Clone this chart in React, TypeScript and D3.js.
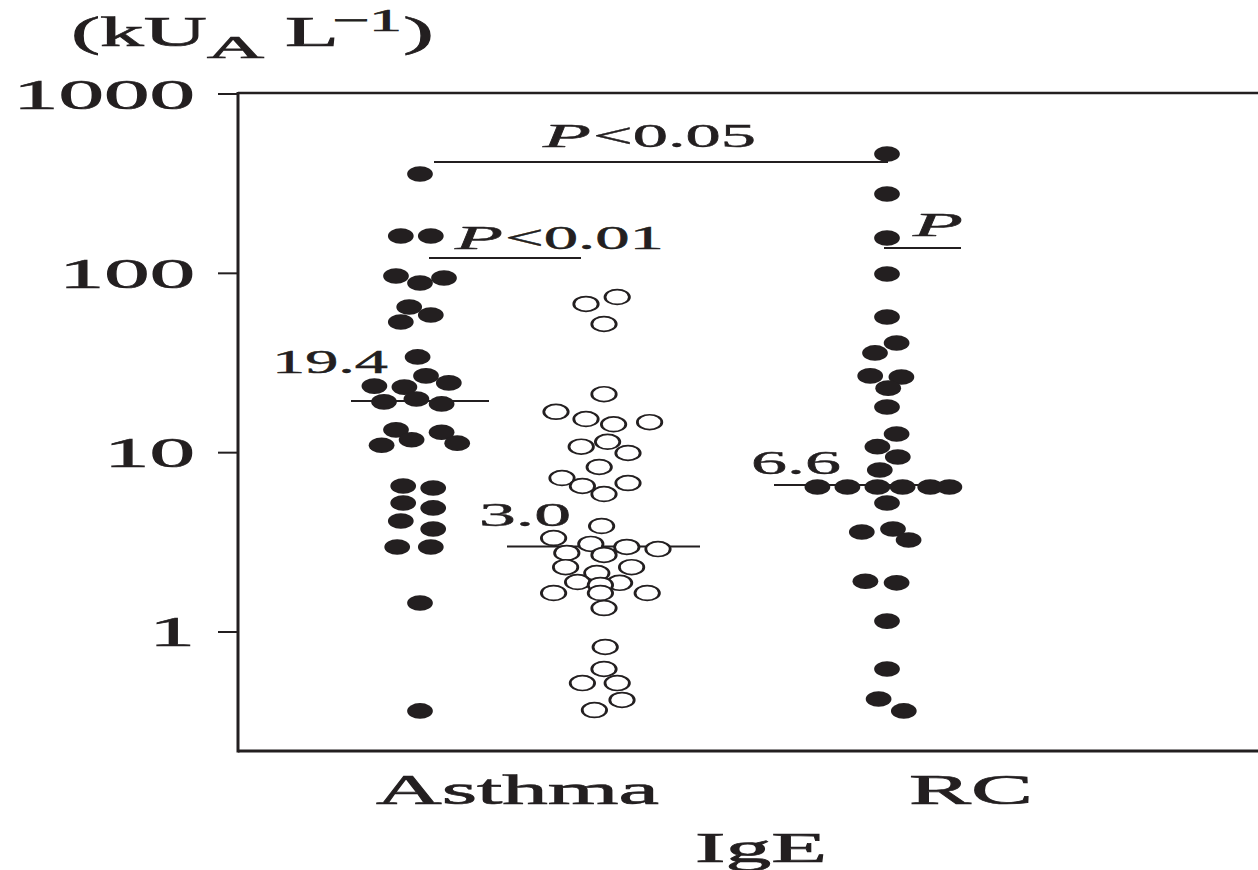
import React from "react";
import * as d3 from "d3";

// ---------- data ----------
const categories = ["Asthma", "RC"];
const tickValues = [1, 10, 100, 1000];
const tickLabels = ["1", "10", "100", "1000"];
const axisTitle = "IgE";

// [value kU/L, horizontal jitter in dot units]
const asthmaFilled: [number, number][] = [
  [358, 0],
  [161.5, -0.8], [161.5, 0.45],
  [96.7, -1.0], [88.3, 0], [94.2, 1.0],
  [64.9, -0.45], [58.6, 0.45], [53.5, -0.8],
  [34.2, -0.1],
  [26.8, 0.25], [24.5, 1.2], [23.5, -1.9], [23.2, -0.65],
  [19.2, -1.5], [19.9, -0.15], [18.7, 0.9],
  [13.4, -1.0], [11.8, -0.35], [13.0, 0.9], [11.3, 1.55], [11.0, -1.6],
  [6.52, -0.7], [6.35, 0.55],
  [5.24, -0.7], [4.92, 0.55],
  [4.16, -0.8], [3.75, 0.55],
  [2.98, -0.95], [2.98, 0.45],
  [1.45, 0],
  [0.363, 0],
];

const asthmaOpen: [number, number][] = [
  [67.5, -0.75], [73.8, 0.55], [52.2, 0],
  [21.2, 0],
  [16.9, -2.0], [15.4, -0.75], [14.4, 0.4], [14.8, 1.9],
  [10.8, -0.95], [11.5, 0.15], [9.96, 1.0],
  [8.32, -0.2],
  [7.22, -1.75], [6.52, -0.9], [6.77, 1.0], [5.88, 0],
  [3.9, -0.1],
  [3.34, -2.1], [3.1, -0.55], [2.98, 0.95], [2.9, 2.25],
  [2.76, -1.55], [2.69, 0],
  [2.3, -1.6], [2.13, -0.3], [2.3, 1.15],
  [1.9, -1.1], [1.88, 0.65], [1.83, -0.15],
  [1.65, -2.1], [1.65, -0.15], [1.65, 1.8],
  [1.36, 0],
  [0.825, 0.05],
  [0.622, 0],
  [0.519, -0.9], [0.519, 0.55],
  [0.418, 0.75],
  [0.367, -0.4],
];

const rcFilled: [number, number][] = [
  [463, 0],
  [277, 0],
  [157.4, 0],
  [99.2, 0],
  [57.1, 0],
  [40.9, 0.4], [36.0, -0.5],
  [26.8, -0.7], [26.4, 0.6], [22.9, 0.05],
  [17.98, 0],
  [12.7, 0.4],
  [10.8, -0.4], [9.46, 0.45],
  [8.0, -0.3],
  [6.44, -2.9], [6.44, -1.65], [6.44, -0.4], [6.44, 0.65], [6.44, 1.8], [6.44, 2.6],
  [5.24, 0],
  [3.61, -1.05], [3.75, 0.25], [3.26, 0.9],
  [1.92, -0.9], [1.88, 0.4],
  [1.15, 0],
  [0.622, 0],
  [0.423, -0.35], [0.363, 0.7],
];

const medians = [
  { label: "19.4", value: 19.4 },
  { label: "3.0", value: 3.0 },
  { label: "6.6", value: 6.6 },
];

const ink = "#231f20";
const serif = "'Liberation Serif', 'Times New Roman', serif";

export default function App() {
  const W = 1258;
  const H = 870;
  const left = 238;
  const top = 93;
  const bottom = 751;

  const y = d3
    .scaleLog()
    .domain([Math.pow(10, -(751 - 632) / 179.33), 1000])
    .range([bottom, 94]);

  const colX = d3
    .scaleOrdinal<string, number>()
    .domain(["asthmaFilled", "asthmaOpen", "rcFilled"])
    .range([420, 604, 887]);

  const jit = d3.scaleLinear().domain([-1, 1]).range([-24, 24]);

  const dot = (
    key: string,
    d: [number, number],
    i: number,
    open: boolean
  ) => (
    <g
      key={key + i}
      transform={`translate(${colX(key) + jit(d[1])},${y(d[0])}) scale(1.65,1)`}
    >
      <circle
        r={open ? 7.4 : 7.8}
        fill={open ? "#fff" : ink}
        stroke={ink}
        strokeWidth={open ? 1.7 : 0}
      />
    </g>
  );

  const fs = 43;
  const heavy = { stroke: ink, strokeWidth: 0.7 };
  const medium = { stroke: ink, strokeWidth: 0.45 };

  return (
    <svg
      width={W}
      height={H}
      style={{ position: "absolute", left: 0, top: 0, background: "#fff" }}
      fontFamily={serif}
    >
      <rect width={W} height={H} fill="#fff" />
      {/* frame */}
      <line x1={left} x2={W} y1={top} y2={top} stroke={ink} strokeWidth={2.5} />
      <line x1={left} x2={W} y1={bottom} y2={bottom} stroke={ink} strokeWidth={3} />
      <line x1={left} x2={left} y1={top - 1} y2={bottom + 1.5} stroke={ink} strokeWidth={3} />

      {/* y ticks */}
      {tickValues.map((t, i) => (
        <g key={t}>
          <line x1={218} x2={left} y1={y(t)} y2={y(t)} stroke={ink} strokeWidth={2} />
          <text
            x={195}
            y={y(t) + 14.5}
            textAnchor="end"
            fontSize={fs}
            fill={ink}
            {...heavy}
            textLength={[46, 91, 136, 182][i]}
            lengthAdjust="spacingAndGlyphs"
          >
            {tickLabels[i]}
          </text>
        </g>
      ))}

      {/* unit title (kU_A L^-1) */}
      <g fill={ink} {...heavy}>
        <text x={71} y={46} fontSize={fs} textLength={136} lengthAdjust="spacingAndGlyphs">(kU</text>
        <text x={207} y={58} fontSize={31} textLength={57} lengthAdjust="spacingAndGlyphs">A</text>
        <text x={285} y={46} fontSize={fs} textLength={54} lengthAdjust="spacingAndGlyphs">L</text>
        <text x={332} y={31} fontSize={32} textLength={70} lengthAdjust="spacingAndGlyphs">−1</text>
        <text x={403} y={46} fontSize={fs} textLength={31} lengthAdjust="spacingAndGlyphs">)</text>
      </g>

      {/* category labels */}
      <g fill={ink} {...heavy}>
        <text x={376} y={804} fontSize={fs} textLength={283} lengthAdjust="spacingAndGlyphs">
          {categories[0]}
        </text>
        <text x={909} y={804} fontSize={fs} textLength={124} lengthAdjust="spacingAndGlyphs">
          {categories[1]}
        </text>
        <text x={695} y={862} fontSize={fs} textLength={132} lengthAdjust="spacingAndGlyphs">
          {axisTitle}
        </text>
      </g>

      {/* median lines */}
      <line x1={351} x2={489} y1={y(medians[0].value)} y2={y(medians[0].value)} stroke={ink} strokeWidth={2} />
      <line x1={507} x2={700} y1={y(medians[1].value)} y2={y(medians[1].value)} stroke={ink} strokeWidth={2} />
      <line x1={774} x2={958} y1={y(medians[2].value)} y2={y(medians[2].value)} stroke={ink} strokeWidth={2} />

      {/* dots */}
      {asthmaFilled.map((d, i) => dot("asthmaFilled", d, i, false))}
      {asthmaOpen.map((d, i) => dot("asthmaOpen", d, i, true))}
      {rcFilled.map((d, i) => dot("rcFilled", d, i, false))}

      {/* median labels */}
      <g fill={ink} {...medium}>
        <text x={272} y={373} fontSize={33} textLength={116} lengthAdjust="spacingAndGlyphs">
          {medians[0].label}
        </text>
        <text x={479} y={526} fontSize={33} textLength={92} lengthAdjust="spacingAndGlyphs">
          {medians[1].label}
        </text>
        <text x={751} y={474} fontSize={33} textLength={90} lengthAdjust="spacingAndGlyphs">
          {medians[2].label}
        </text>
      </g>

      {/* significance brackets */}
      <line x1={434} x2={888} y1={162} y2={162} stroke={ink} strokeWidth={2} />
      <line x1={429} x2={581} y1={258} y2={258} stroke={ink} strokeWidth={2} />
      <line x1={884} x2={961} y1={248} y2={248} stroke={ink} strokeWidth={2} />
      <g fill={ink} {...medium}>
        <text x={543} y={147} fontSize={33} fontStyle="italic" textLength={48} lengthAdjust="spacingAndGlyphs">P</text>
        <text x={593} y={147} fontSize={33} textLength={163} lengthAdjust="spacingAndGlyphs">&lt;0.05</text>
        <text x={455} y={249} fontSize={33} fontStyle="italic" textLength={48} lengthAdjust="spacingAndGlyphs">P</text>
        <text x={505} y={249} fontSize={33} textLength={159} lengthAdjust="spacingAndGlyphs">&lt;0.01</text>
        <text x={913} y={236} fontSize={33} fontStyle="italic" textLength={50} lengthAdjust="spacingAndGlyphs">P</text>
      </g>
    </svg>
  );
}
